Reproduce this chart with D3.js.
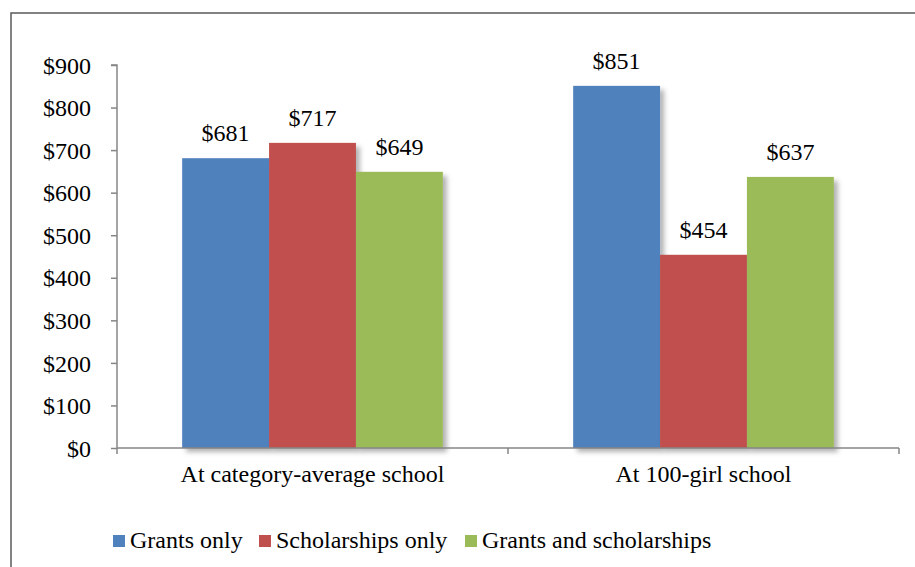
<!DOCTYPE html>
<html>
<head>
<meta charset="utf-8">
<script src="https://cdn.jsdelivr.net/npm/d3@7"></script>
<style>
  html, body { margin: 0; padding: 0; background: #fff; }
  svg { display: block; }
</style>
</head>
<body>
<svg id="chart" width="915" height="567"></svg>
<script>
const categories = ["At category-average school", "At 100-girl school"];
const seriesNames = ["Grants only", "Scholarships only", "Grants and scholarships"];
const grantsOnly = [681, 851];
const scholarshipsOnly = [717, 454];
const grantsAndScholarships = [649, 637];
const yTicks = [0, 100, 200, 300, 400, 500, 600, 700, 800, 900];
const colors = ["#4F81BD", "#C0504D", "#9BBB59"];

const seriesValues = [grantsOnly, scholarshipsOnly, grantsAndScholarships];

const svg = d3.select("#chart");
const fontSize = 24;
const serif = '"Liberation Serif", serif';

function styleText(sel) {
  return sel.style("font-family", serif).style("font-size", fontSize + "px").style("fill", "#000");
}

// outer frame
svg.append("rect")
  .attr("x", 11).attr("y", 13)
  .attr("width", 930).attr("height", 600)
  .attr("fill", "none").attr("stroke", "#595959").attr("stroke-width", 1.5);

const defs = svg.append("defs");
const f = defs.append("filter").attr("id", "shadow")
  .attr("x", "-20%").attr("y", "-20%").attr("width", "150%").attr("height", "150%");
f.append("feDropShadow").attr("dx", 4).attr("dy", 4).attr("stdDeviation", 2.5)
  .attr("flood-color", "#000").attr("flood-opacity", 0.3);

const plotLeft = 117, plotRight = 899, plotTop = 65, plotBottom = 448;

const y = d3.scaleLinear().domain([0, 900]).range([plotBottom, plotTop]);
const x0 = d3.scaleBand().domain(categories).range([plotLeft, plotRight]).padding(0);
const x1 = d3.scaleBand().domain(seriesNames).range([0, x0.bandwidth()])
  .paddingInner(0).paddingOuter(0.75);

// bars
const data = [];
categories.forEach((c, ci) => {
  seriesNames.forEach((s, si) => {
    data.push({ cat: c, series: s, value: seriesValues[si][ci], color: colors[si] });
  });
});

const bars = svg.append("g");
bars.selectAll("rect").data(data).enter().append("rect")
  .attr("x", d => x0(d.cat) + x1(d.series))
  .attr("y", d => y(d.value))
  .attr("width", x1.bandwidth())
  .attr("height", d => y(0) - y(d.value))
  .attr("fill", d => d.color)
  .attr("filter", "url(#shadow)");

// value labels
styleText(svg.append("g").selectAll("text").data(data).enter().append("text")
  .attr("x", d => x0(d.cat) + x1(d.series) + x1.bandwidth() / 2)
  .attr("y", d => y(d.value) - 17)
  .attr("text-anchor", "middle")
  .text(d => "$" + d.value));

// y axis
const yAxis = d3.axisLeft(y).tickValues(yTicks).tickSize(6).tickPadding(20)
  .tickFormat(d => "$" + d);
const gy = svg.append("g").attr("transform", `translate(${plotLeft},0)`).call(yAxis);
gy.select(".domain").attr("stroke", "#868686").attr("stroke-width", 1.5)
  .attr("d", `M-6,${plotTop}H0V${plotBottom}`);
gy.selectAll(".tick line").attr("stroke", "#868686").attr("stroke-width", 1.5);
styleText(gy.selectAll(".tick text").attr("dy", "0.34em"));

// x axis
const gx = svg.append("g").attr("transform", `translate(0,${plotBottom})`);
gx.append("line").attr("x1", plotLeft).attr("x2", plotRight).attr("y1", 0).attr("y2", 0)
  .attr("stroke", "#868686").attr("stroke-width", 1.5);
const boundaries = [plotLeft].concat(categories.map(c => x0(c) + x0.bandwidth()));
gx.selectAll("line.tk").data(boundaries).enter().append("line").attr("class", "tk")
  .attr("x1", d => d).attr("x2", d => d).attr("y1", 0).attr("y2", 6)
  .attr("stroke", "#868686").attr("stroke-width", 1.5);
styleText(gx.selectAll("text").data(categories).enter().append("text")
  .attr("x", d => x0(d) + x0.bandwidth() / 2)
  .attr("y", 482 - plotBottom)
  .attr("text-anchor", "middle")
  .text(d => d));

// legend
const legendX = [113, 259, 465];
const lg = svg.append("g");
seriesNames.forEach((s, i) => {
  lg.append("rect").attr("x", legendX[i]).attr("y", 535).attr("width", 12).attr("height", 12)
    .attr("fill", colors[i]);
  styleText(lg.append("text").attr("x", legendX[i] + 17).attr("y", 548).text(s));
});
</script>
</body>
</html>
